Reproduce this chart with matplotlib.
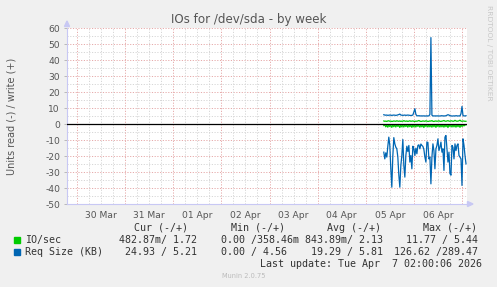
import matplotlib
matplotlib.use("Agg")
import matplotlib.pyplot as plt
from matplotlib.patches import Polygon, Rectangle
import numpy as np

W, H, DPI = 497, 287, 100

# ---------------- data ----------------
title = "IOs for /dev/sda - by week"
ylabel = "Units read (-) / write (+)"
day_labels = ["30 Mar", "31 Mar", "01 Apr", "02 Apr", "03 Apr", "04 Apr", "05 Apr", "06 Apr"]
day_label_pos = [0.5, 1.5, 2.5, 3.5, 4.5, 5.5, 6.5, 7.5]   # days since 30 Mar 00:00
x_range = [-0.208, 8.104]
y_range = [-50, 60]
y_ticks = [-50, -40, -30, -20, -10, 0, 10, 20, 30, 40, 50, 60]
data_start = 6.375          # 05 Apr 09:00
sample_step = 1.0 / 48      # 30 min

io_write = [1.9, 1.7, 1.8, 1.6, 1.9, 2.0, 1.7, 1.8, 1.6, 1.7, 1.9, 1.8, 1.7, 2.0, 1.8, 1.7,
            1.9, 1.6, 1.8, 1.7, 2.1, 1.8, 1.7, 1.9, 1.6, 1.8, 2.0, 1.7, 1.8, 1.9, 1.7, 1.6,
            1.8, 1.7, 1.9, 2.2, 1.8, 1.6, 1.7, 1.9, 1.8, 1.7, 2.0, 1.8, 1.6, 1.7, 1.9, 1.8,
            2.1, 1.7, 1.6, 1.8, 1.9, 1.7, 1.8, 2.0, 1.7, 1.6, 1.8, 1.9, 2.2, 1.8, 1.7, 1.9,
            2.1, 1.8, 1.7, 2.0, 1.9, 1.7, 1.8, 2.3, 1.9, 1.7, 1.8, 2.0, 2.4, 1.8, 1.7, 1.9,
            1.8, 1.7, 1.7]
io_read = [-1.0, -0.5, -1.8, -0.6, -2.0, -0.5, -1.6, -0.7, -2.1, -0.5, -1.7, -0.6, -1.9, -0.4,
           -1.5, -0.8, -2.2, -0.5, -1.8, -0.6, -1.9, -0.5, -1.6, -0.7, -2.0, -0.4, -1.7, -0.6,
           -2.1, -0.5, -1.8, -0.6, -1.9, -0.5, -1.5, -0.7, -2.0, -0.5, -1.8, -0.6, -2.2, -0.4,
           -1.6, -0.7, -1.9, -0.5, -1.8, -0.6, -2.0, -0.5, -1.7, -0.6, -2.1, -0.4, -1.6, -0.7,
           -1.9, -0.5, -1.8, -0.6, -2.0, -0.5, -1.7, -0.6, -2.2, -0.4, -1.6, -0.7, -1.9, -0.5,
           -1.8, -0.6, -2.0, -0.5, -1.7, -0.6, -2.1, -0.4, -1.6, -0.7, -1.2, -0.6, -0.5]
req_write = [5.8, 5.6, 5.5, 5.6, 5.4, 5.5, 5.6, 5.5, 5.4, 5.5, 5.6, 5.5, 5.4, 5.5, 5.7, 5.9,
             6.2, 5.6, 5.5, 5.4, 5.5, 5.6, 5.4, 5.5, 5.6, 5.5, 5.4, 5.3, 5.4, 5.6, 7.5, 9.6,
             6.0, 5.2, 5.1, 5.2, 5.1, 5.0, 5.1, 5.0, 5.1, 5.0, 5.0, 5.1, 5.0, 5.1, 6.0, 54.0,
             5.5, 5.0, 5.1, 5.0, 5.1, 5.0, 5.1, 5.0, 5.0, 5.1, 5.2, 5.0, 5.1, 5.0, 5.2, 5.5,
             5.8, 5.6, 5.2, 5.1, 5.0, 5.0, 5.1, 5.0, 5.2, 5.1, 5.0, 5.1, 5.0, 6.5, 11.0, 5.2,
             5.1, 5.0, 5.2]
req_read = [-17.6, -21.8, -18.0, -20.7, -14.0, -8.2, -13.4, -28.0, -39.5, -20.0, -8.5, -12.4,
            -14.5, -15.5, -20.7, -32.0, -39.5, -26.0, -19.7, -9.7, -26.0, -33.2, -19.7, -13.9,
            -17.2, -13.4, -23.8, -19.7, -28.0, -13.9, -15.5, -19.7, -15.1, -18.6, -13.4, -13.0,
            -15.5, -12.5, -13.4, -14.0, -16.0, -20.7, -23.8, -11.3, -11.5, -21.8, -20.7, -37.4,
            -20.7, -12.4, -16.6, -28.0, -15.5, -13.4, -9.3, -16.6, -14.5, -11.3, -17.6, -15.5,
            -29.0, -8.2, -7.2, -15.5, -23.8, -17.6, -31.0, -32.0, -13.4, -14.5, -21.8, -12.4,
            -16.6, -13.4, -12.4, -19.7, -20.7, -21.8, -38.4, -9.3, -13.4, -19.7, -24.9]

legend_names = ["IO/sec", "Req Size (KB)"]
legend_colors = ["#00CC00", "#0066B3"]
col_headers = ["Cur (-/+)", "Min (-/+)", "Avg (-/+)", "Max (-/+)"]
cur_vals = ["482.87m/ 1.72", "24.93 / 5.21"]
min_vals = ["0.00 /358.46m", "0.00 / 4.56"]
avg_vals = ["843.89m/ 2.13", "19.29 / 5.81"]
max_vals = ["11.77 / 5.44", "126.62 /289.47"]
last_update = "Last update: Tue Apr  7 02:00:06 2026"
watermark = "RRDTOOL / TOBI OETIKER"
footer = "Munin 2.0.75"

# ---------------- figure ----------------
fig = plt.figure(figsize=(W / DPI, H / DPI), dpi=DPI, facecolor="#F0F0F0")
L, R, T, B = 67, 467, 28, 204
ax = fig.add_axes([L / W, 1 - B / H, (R - L) / W, (B - T) / H])
ax.set_facecolor("white")
ax.set_xlim(*x_range)
ax.set_ylim(*y_range)

minor_c = "#D6D6D6"
major_c = "#E6AAAA"
dot = (0, (1.2, 1.6))
for v in np.arange(y_range[0], y_range[1] + 0.1, 5):
    major = (v % 10 == 0)
    ax.axhline(v, color=major_c if major else minor_c, lw=0.7, ls=dot, zorder=0)
for d in np.arange(0, 8.26, 0.25):
    major = abs(d - round(d)) < 1e-6
    ax.axvline(d, color=major_c if major else minor_c, lw=0.7, ls=dot, zorder=0)

def times(series):
    return data_start + sample_step * np.arange(len(series))

lw = 0.9
ax.plot(times(io_write), io_write, color=legend_colors[0], lw=lw, zorder=3)
ax.plot(times(io_read), io_read, color=legend_colors[0], lw=lw, zorder=3)
ax.plot(times(req_write), req_write, color=legend_colors[1], lw=lw, zorder=4)
ax.plot(times(req_read), req_read, color=legend_colors[1], lw=lw, zorder=4)
ax.axhline(0, color="black", lw=0.9, zorder=5)

for s in ["top", "right"]:
    ax.spines[s].set_visible(False)
for s in ["left", "bottom"]:
    ax.spines[s].set_color("#C8C8F4")
    ax.spines[s].set_linewidth(0.8)

tick_c = "#555555"
ax.set_yticks(y_ticks)
ax.set_yticklabels([str(v) for v in y_ticks])
ax.set_xticks(day_label_pos)
ax.set_xticklabels(day_labels)
ax.tick_params(axis="y", length=2, width=0.6, color="#B0B0B0", pad=3,
               labelsize=6.6, labelcolor=tick_c)
ax.tick_params(axis="x", length=0, pad=5, labelsize=6.6, labelcolor=tick_c)

fig.patches.append(Polygon([[64.5 / W, 1 - 26.5 / H], [69.5 / W, 1 - 26.5 / H], [67 / W, 1 - 21 / H]],
                           closed=True, transform=fig.transFigure, color="#C8C8F4"))
fig.patches.append(Polygon([[467.5 / W, 1 - 201.5 / H], [467.5 / W, 1 - 206.5 / H], [473 / W, 1 - 204 / H]],
                           closed=True, transform=fig.transFigure, color="#C8C8F4"))

def fx(x):
    return x / W

def fy(y):
    return 1 - y / H

fig.text(fx(249), fy(19), title, ha="center", va="center", fontsize=8.6, color="#555555")
fig.text(fx(11.5), fy(116.5), ylabel, ha="center", va="center", rotation=90,
         fontsize=7.0, color="#555555")
fig.text(fx(489), fy(5), watermark, ha="center", va="top", rotation=270,
         fontsize=5.4, color="#C8C8C8")

mono = dict(family="DejaVu Sans Mono", fontsize=7.2, color="#333333", va="center")
fig.text(fx(134), fy(228), col_headers[0], ha="left", **mono)
fig.text(fx(231), fy(228), col_headers[1], ha="left", **mono)
fig.text(fx(327), fy(228), col_headers[2], ha="left", **mono)
fig.text(fx(423), fy(228), col_headers[3], ha="left", **mono)

rows_y = [240, 252]
for i, yy in enumerate(rows_y):
    fig.patches.append(Rectangle((fx(14), fy(yy + 2.7)), 5.5 / W, 5.5 / H,
                                 transform=fig.transFigure, color=legend_colors[i]))
    fig.text(fx(25.3), fy(yy), legend_names[i], ha="left", **mono)
    fig.text(fx(197), fy(yy), cur_vals[i], ha="right", **mono)
    fig.text(fx(221), fy(yy), min_vals[i], ha="left", **mono)
    fig.text(fx(383), fy(yy), avg_vals[i], ha="right", **mono)
    fig.text(fx(478), fy(yy), max_vals[i], ha="right", **mono)

fig.text(fx(482), fy(264), last_update, ha="right", **mono)
fig.text(fx(244), fy(276), footer, ha="center", va="center", fontsize=4.8, color="#BBBBBB")

fig.savefig("out.png", dpi=DPI, facecolor=fig.get_facecolor())
